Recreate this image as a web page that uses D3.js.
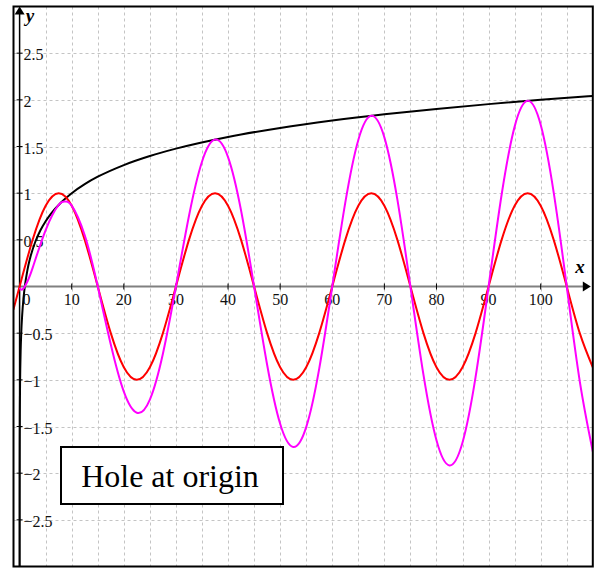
<!DOCTYPE html>
<html>
<head>
<meta charset="utf-8">
<script src="https://cdn.jsdelivr.net/npm/d3@7"></script>
<style>
  html, body { margin: 0; padding: 0; background: #fff; }
  svg { display: block; }
</style>
</head>
<body>
<svg id="chart" width="595" height="569"></svg>
<script>
// Sampled curves: (x, y) pairs
const redX = [-1.2, 0, 2.5, 5, 7.5, 10, 12.5, 15, 17.5, 20, 22.5, 25, 27.5, 30, 32.5, 35, 37.5, 40, 42.5, 45, 47.5, 50, 52.5, 55, 57.5, 60, 62.5, 65, 67.5, 70, 72.5, 75, 77.5, 80, 82.5, 85, 87.5, 90, 92.5, 95, 97.5, 100, 102.5, 105, 107.5, 110];
const redY = [-0.25, 0, 0.5, 0.866, 1, 0.866, 0.5, 0, -0.5, -0.866, -1, -0.866, -0.5, 0, 0.5, 0.866, 1, 0.866, 0.5, 0, -0.5, -0.866, -1, -0.866, -0.5, 0, 0.5, 0.866, 1, 0.866, 0.5, 0, -0.5, -0.866, -1, -0.866, -0.5, 0, 0.5, 0.866, 1, 0.866, 0.5, 0, -0.5, -0.866];

const magentaX = [0.05, 0.1, 0.25, 0.5, 0.75, 1, 1.5, 2.5, 5, 7.5, 8.75, 10, 12.5, 15, 17.5, 20, 22.5, 25, 27.5, 30, 32.5, 35, 37.5, 40, 42.5, 45, 47.5, 50, 52.5, 55, 57.5, 60, 62.5, 65, 67.5, 70, 72.5, 75, 77.5, 80, 82.5, 85, 87.5, 90, 92.5, 95, 97.5, 100, 102.5, 105, 107.5, 110];
const magentaY = [-0.014, -0.021, -0.032, -0.032, -0.020, 0, 0.054, 0.199, 0.605, 0.875, 0.910, 0.866, 0.548, 0, -0.622, -1.127, -1.352, -1.211, -0.720, 0, 0.756, 1.337, 1.574, 1.387, 0.814, 0, -0.838, -1.471, -1.720, -1.507, -0.880, 0, 0.898, 1.570, 1.829, 1.598, 0.930, 0, -0.945, -1.648, -1.917, -1.671, -0.971, 0, 0.983, 1.713, 1.989, 1.732, 1.005, 0, -1.016, -1.768];

const blackX = [0.0005, 0.001, 0.002, 0.005, 0.01, 0.02, 0.05, 0.1, 0.2, 0.3, 0.5, 0.75, 1, 1.5, 2, 3, 4, 5, 6, 8, 10, 12.5, 15, 20, 25, 30, 40, 50, 60, 70, 80, 90, 100, 110];
const blackY = [-3.301, -3, -2.699, -2.301, -2, -1.699, -1.301, -1, -0.699, -0.523, -0.301, -0.125, 0, 0.176, 0.301, 0.477, 0.602, 0.699, 0.778, 0.903, 1, 1.097, 1.176, 1.301, 1.398, 1.477, 1.602, 1.699, 1.778, 1.845, 1.903, 1.954, 2, 2.041];

const xTicks = [0, 10, 20, 30, 40, 50, 60, 70, 80, 90, 100];
const yTicks = [-2.5, -2, -1.5, -1, -0.5, 0.5, 1, 1.5, 2, 2.5];
const xGrid = [5, 10, 15, 20, 25, 30, 35, 40, 45, 50, 55, 60, 65, 70, 75, 80, 85, 90, 95, 100, 105];
const yGrid = [-2.5, -2, -1.5, -1, -0.5, 0.5, 1, 1.5, 2, 2.5];
const noteText = "Hole at origin";

const serif = "'Liberation Serif', 'Times New Roman', serif";
const svg = d3.select("#chart");
const frameL = 13.5, frameR = 592.8, frameT = 6.5, frameB = 566.5;

const x = d3.scaleLinear().domain([0, 110]).range([19.6, frameR]);
const y = d3.scaleLinear().domain([-3, 3]).range([frameB, frameT]);

svg.append("defs").append("clipPath").attr("id", "plot")
  .append("rect").attr("x", frameL).attr("y", frameT).attr("width", frameR - frameL).attr("height", frameB - frameT);

const fmt = v => (v < 0 ? "\u2212" : "") + Math.abs(v);

// grid
const grid = svg.append("g").attr("stroke", "#c4c4c4").attr("stroke-width", 1).attr("stroke-dasharray", "3,3");
grid.selectAll("line.v").data(xGrid).join("line").attr("class", "v")
  .attr("x1", d => Math.round(x(d)) + 0.5).attr("x2", d => Math.round(x(d)) + 0.5)
  .attr("y1", frameT).attr("y2", frameB);
grid.selectAll("line.h").data(yGrid).join("line").attr("class", "h")
  .attr("y1", d => Math.round(y(d)) + 0.5).attr("y2", d => Math.round(y(d)) + 0.5)
  .attr("x1", frameL).attr("x2", frameR);

// x axis (grey, with arrow)
svg.append("line").attr("x1", frameL).attr("x2", frameR - 6)
  .attr("y1", y(0)).attr("y2", y(0)).attr("stroke", "#808080").attr("stroke-width", 2);
svg.append("path")
  .attr("d", `M${frameR - 2},${y(0)} L${frameR - 10},${y(0) - 5} L${frameR - 10},${y(0) + 5} Z`)
  .attr("fill", "#000");

// y axis (black, with arrow)
svg.append("line").attr("x1", x(0)).attr("x2", x(0))
  .attr("y1", frameT + 6).attr("y2", frameB).attr("stroke", "#000").attr("stroke-width", 1.5);
svg.append("path")
  .attr("d", `M${x(0)},${frameT} L${x(0) - 5},${frameT + 8} L${x(0) + 5},${frameT + 8} Z`)
  .attr("fill", "#000");

// tick marks
svg.append("g").selectAll("line").data(xTicks.filter(d => d !== 0)).join("line")
  .attr("x1", d => x(d)).attr("x2", d => x(d))
  .attr("y1", y(0) - 3).attr("y2", y(0) + 3).attr("stroke", "#000").attr("stroke-width", 1);
svg.append("g").selectAll("line").data(yTicks).join("line")
  .attr("x1", x(0) - 3).attr("x2", x(0) + 3)
  .attr("y1", d => y(d)).attr("y2", d => y(d)).attr("stroke", "#000").attr("stroke-width", 1);

// tick labels
svg.append("g").selectAll("text").data(xTicks).join("text")
  .attr("x", d => d === 0 ? x(d) + 7 : x(d))
  .attr("y", y(0) + 18)
  .attr("text-anchor", "middle")
  .attr("font-family", serif)
  .attr("font-size", 16)
  .attr("fill", "#111")
  .text(d => fmt(d));
svg.append("g").selectAll("text").data(yTicks).join("text")
  .attr("x", x(0) + 4)
  .attr("y", d => y(d) + 7)
  .attr("font-family", serif)
  .attr("font-size", 16)
  .attr("fill", "#111")
  .text(d => fmt(d));

// axis names
svg.append("text").attr("x", 580).attr("y", 273).attr("text-anchor", "middle")
  .attr("font-family", serif)
  .attr("font-size", 19).attr("font-style", "italic").attr("font-weight", "bold").text("x");
svg.append("text").attr("x", 30).attr("y", 22).attr("text-anchor", "middle")
  .attr("font-family", serif)
  .attr("font-size", 19).attr("font-style", "italic").attr("font-weight", "bold").text("y");

// curves
const plot = svg.append("g").attr("clip-path", "url(#plot)");
const line = d3.line().x(d => x(d[0])).y(d => y(d[1]));

plot.append("path").datum(d3.zip(blackX, blackY))
  .attr("d", line.curve(d3.curveMonotoneX))
  .attr("fill", "none").attr("stroke", "#000").attr("stroke-width", 2);
plot.append("path").datum(d3.zip(redX, redY))
  .attr("d", line.curve(d3.curveNatural))
  .attr("fill", "none").attr("stroke", "#ff0000").attr("stroke-width", 2);
plot.append("path").datum(d3.zip(magentaX, magentaY))
  .attr("d", line.curve(d3.curveNatural))
  .attr("fill", "none").attr("stroke", "#ff00ff").attr("stroke-width", 2);

// note box
const note = svg.append("g");
note.append("rect").attr("x", 61).attr("y", 447).attr("width", 222).attr("height", 57)
  .attr("fill", "#fff").attr("stroke", "#000").attr("stroke-width", 2);
note.append("text").attr("x", 170).attr("y", 487).attr("text-anchor", "middle")
  .attr("font-family", serif)
  .attr("font-size", 32).text(noteText);

// frame
svg.append("rect").attr("x", frameL).attr("y", frameT).attr("width", frameR - frameL).attr("height", frameB - frameT)
  .attr("fill", "none").attr("stroke", "#000").attr("stroke-width", 2);
</script>
</body>
</html>
